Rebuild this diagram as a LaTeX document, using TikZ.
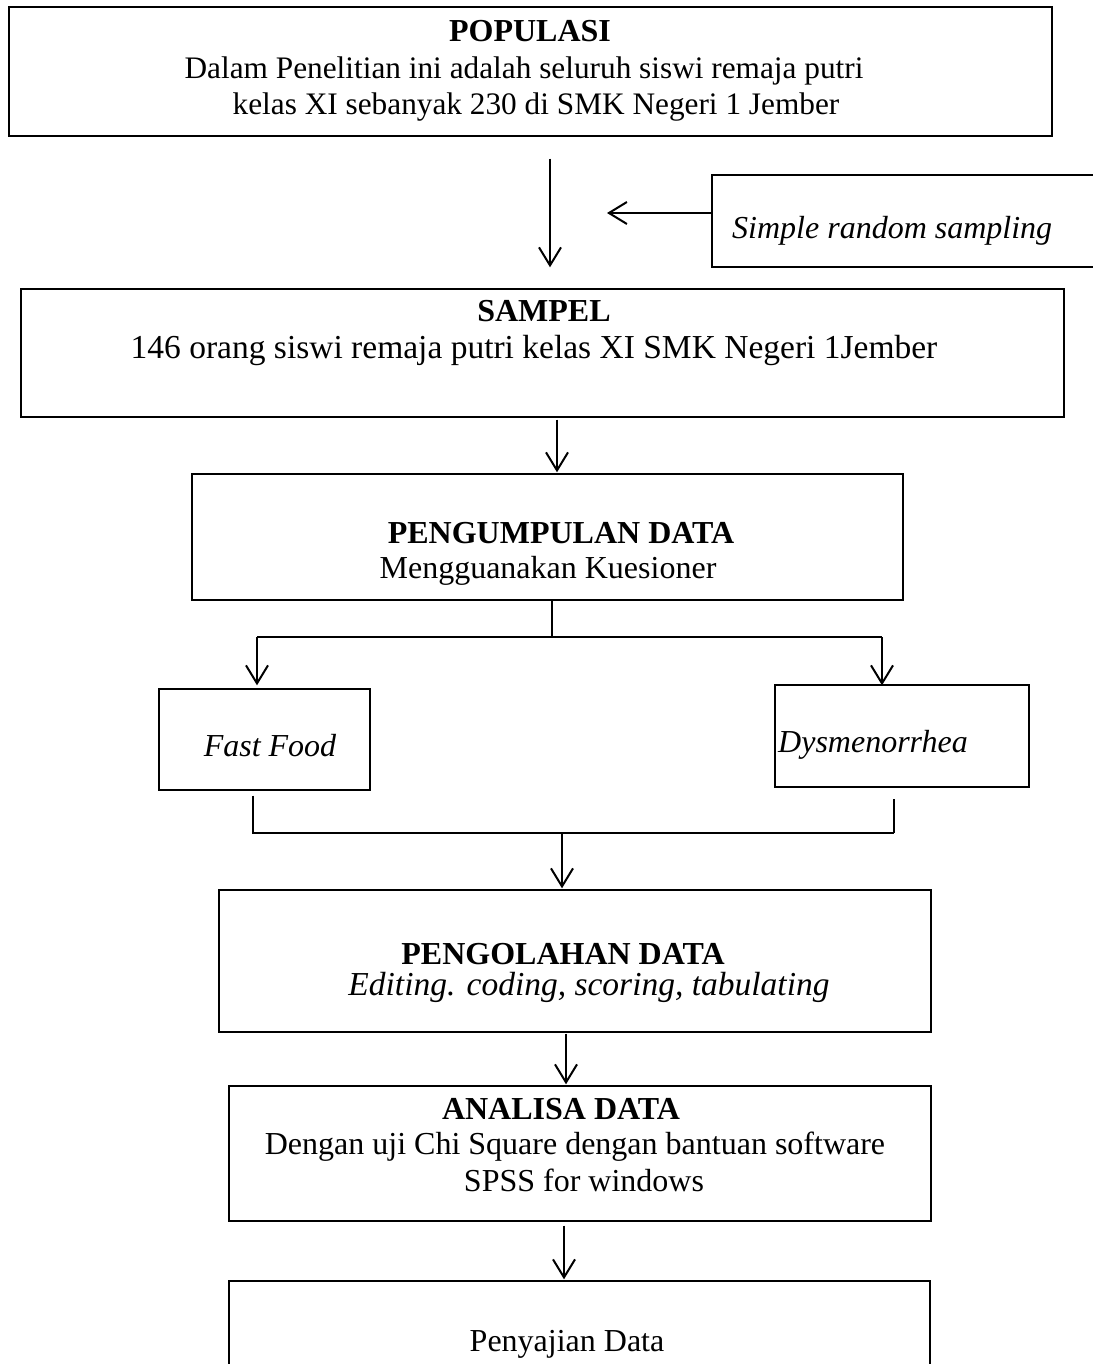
\documentclass[tikz,border=0pt]{standalone}
\usepackage{fontspec}
\setmainfont{Liberation Serif}
\usetikzlibrary{arrows.meta}
\begin{document}
\begin{tikzpicture}[x=1pt,y=-1pt,
  box/.style={draw, line width=1.4pt, inner sep=0pt, rectangle},
  txt/.style={anchor=base, inner sep=0pt, font=\fontsize{32}{38}\selectfont},
  bf/.style={txt, font=\fontsize{32}{38}\selectfont\bfseries},
  it/.style={txt, font=\fontsize{32}{38}\selectfont\itshape},
  arr/.style={line width=2pt, -{Straight Barb[length=18pt,width=22pt]}},
  ln/.style={line width=2pt}]
\useasboundingbox[fill=white] (0,0) rectangle (1092,1364);

% boxes
\node[box, minimum width=1043pt, minimum height=129pt] (pop) at (530.5,71.5) {};
\node[box, minimum width=398pt, minimum height=92pt] (simple) at (911,221) {};
\node[box, minimum width=1043pt, minimum height=128pt] (sampel) at (542.5,353) {};
\node[box, minimum width=711pt, minimum height=126pt] (peng) at (547.5,537) {};
\node[box, minimum width=211pt, minimum height=101pt] (ff) at (264.5,739.5) {};
\node[box, minimum width=254pt, minimum height=102pt] (dys) at (902,736) {};
\node[box, minimum width=712pt, minimum height=142pt] (olah) at (575,961) {};
\node[box, minimum width=702pt, minimum height=135pt] (anal) at (580,1153.5) {};
\node[box, minimum width=701pt, minimum height=139pt] (saji) at (579.5,1350.5) {};

% texts
\node[bf] (popT1) at (530,42) {POPULASI};
\node[txt, font=\fontsize{31.3}{38}\selectfont] (popT2) at (524,79) {Dalam Penelitian ini adalah seluruh siswi remaja putri};
\node[txt, font=\fontsize{31.3}{38}\selectfont] (popT3) at (536,115) {kelas XI sebanyak 230 di SMK Negeri 1 Jember};
\node[it, anchor=base west] (simT) at (732,239) {Simple random sampling};
\node[bf] (samT1) at (544,321) {SAMPEL};
\node[txt, font=\fontsize{33.5}{38}\selectfont] (samT2) at (534,358) {146 orang siswi remaja putri kelas XI SMK Negeri 1Jember};
\node[bf] (pengT1) at (561,543) {PENGUMPULAN DATA};
\node[txt] (pengT2) at (548,578) {Mengguanakan Kuesioner};
\node[it] (ffT) at (270,756) {Fast Food};
\node[it, anchor=base west] (dysT) at (778,752) {Dysmenorrhea};
\node[bf] (olahT1) at (563,964) {PENGOLAHAN DATA};
\node[it, font=\fontsize{33.5}{38}\selectfont\itshape] (olahT2) at (589,995) {Editing. coding, scoring, tabulating};
\node[bf] (analT1) at (561,1119) {ANALISA DATA};
\node[txt] (analT2) at (575,1154) {Dengan uji Chi Square dengan bantuan software};
\node[txt] (analT3) at (584,1191) {SPSS for windows};
\node[txt] (sajiT) at (567,1351) {Penyajian Data};

% connector coordinates
\coordinate (a1) at (550,0);
\coordinate (a2) at (557,0);
\coordinate (b0) at (552,637);
\coordinate (bl) at (257,637);
\coordinate (br) at (882,637);
\coordinate (cl) at (253,833);
\coordinate (cr) at (894,833);
\coordinate (c0) at (562,833);
\coordinate (a4) at (566,0);
\coordinate (a5) at (564,0);
\coordinate (sx) at (607,213);

% connectors
\draw[arr, shorten <=22pt, shorten >=21pt] (pop.south -| a1) -- (sampel.north -| a1);
\draw[arr] (simple.west |- sx) -- (sx);
\draw[arr, shorten <=2pt, shorten >=1pt] (sampel.south -| a2) -- (peng.north -| a2);
\draw[ln] (peng.south -| b0) -- (b0);
\draw[ln] (bl) -- (br);
\draw[arr, shorten >=3pt] (bl) -- (ff.north -| bl);
\draw[arr, shorten >=-1pt] (br) -- (dys.north -| br);
\draw[ln, shorten <=5pt] (ff.south -| cl) -- (cl) -- (cr);
\draw[ln, shorten >=11pt] (cr) -- (dys.south -| cr);
\draw[arr, shorten >=1pt] (c0) -- (olah.north -| c0);
\draw[arr, shorten <=1pt, shorten >=1pt] (olah.south -| a4) -- (anal.north -| a4);
\draw[arr, shorten <=4pt, shorten >=1pt] (anal.south -| a5) -- (saji.north -| a5);
\end{tikzpicture}
\end{document}
